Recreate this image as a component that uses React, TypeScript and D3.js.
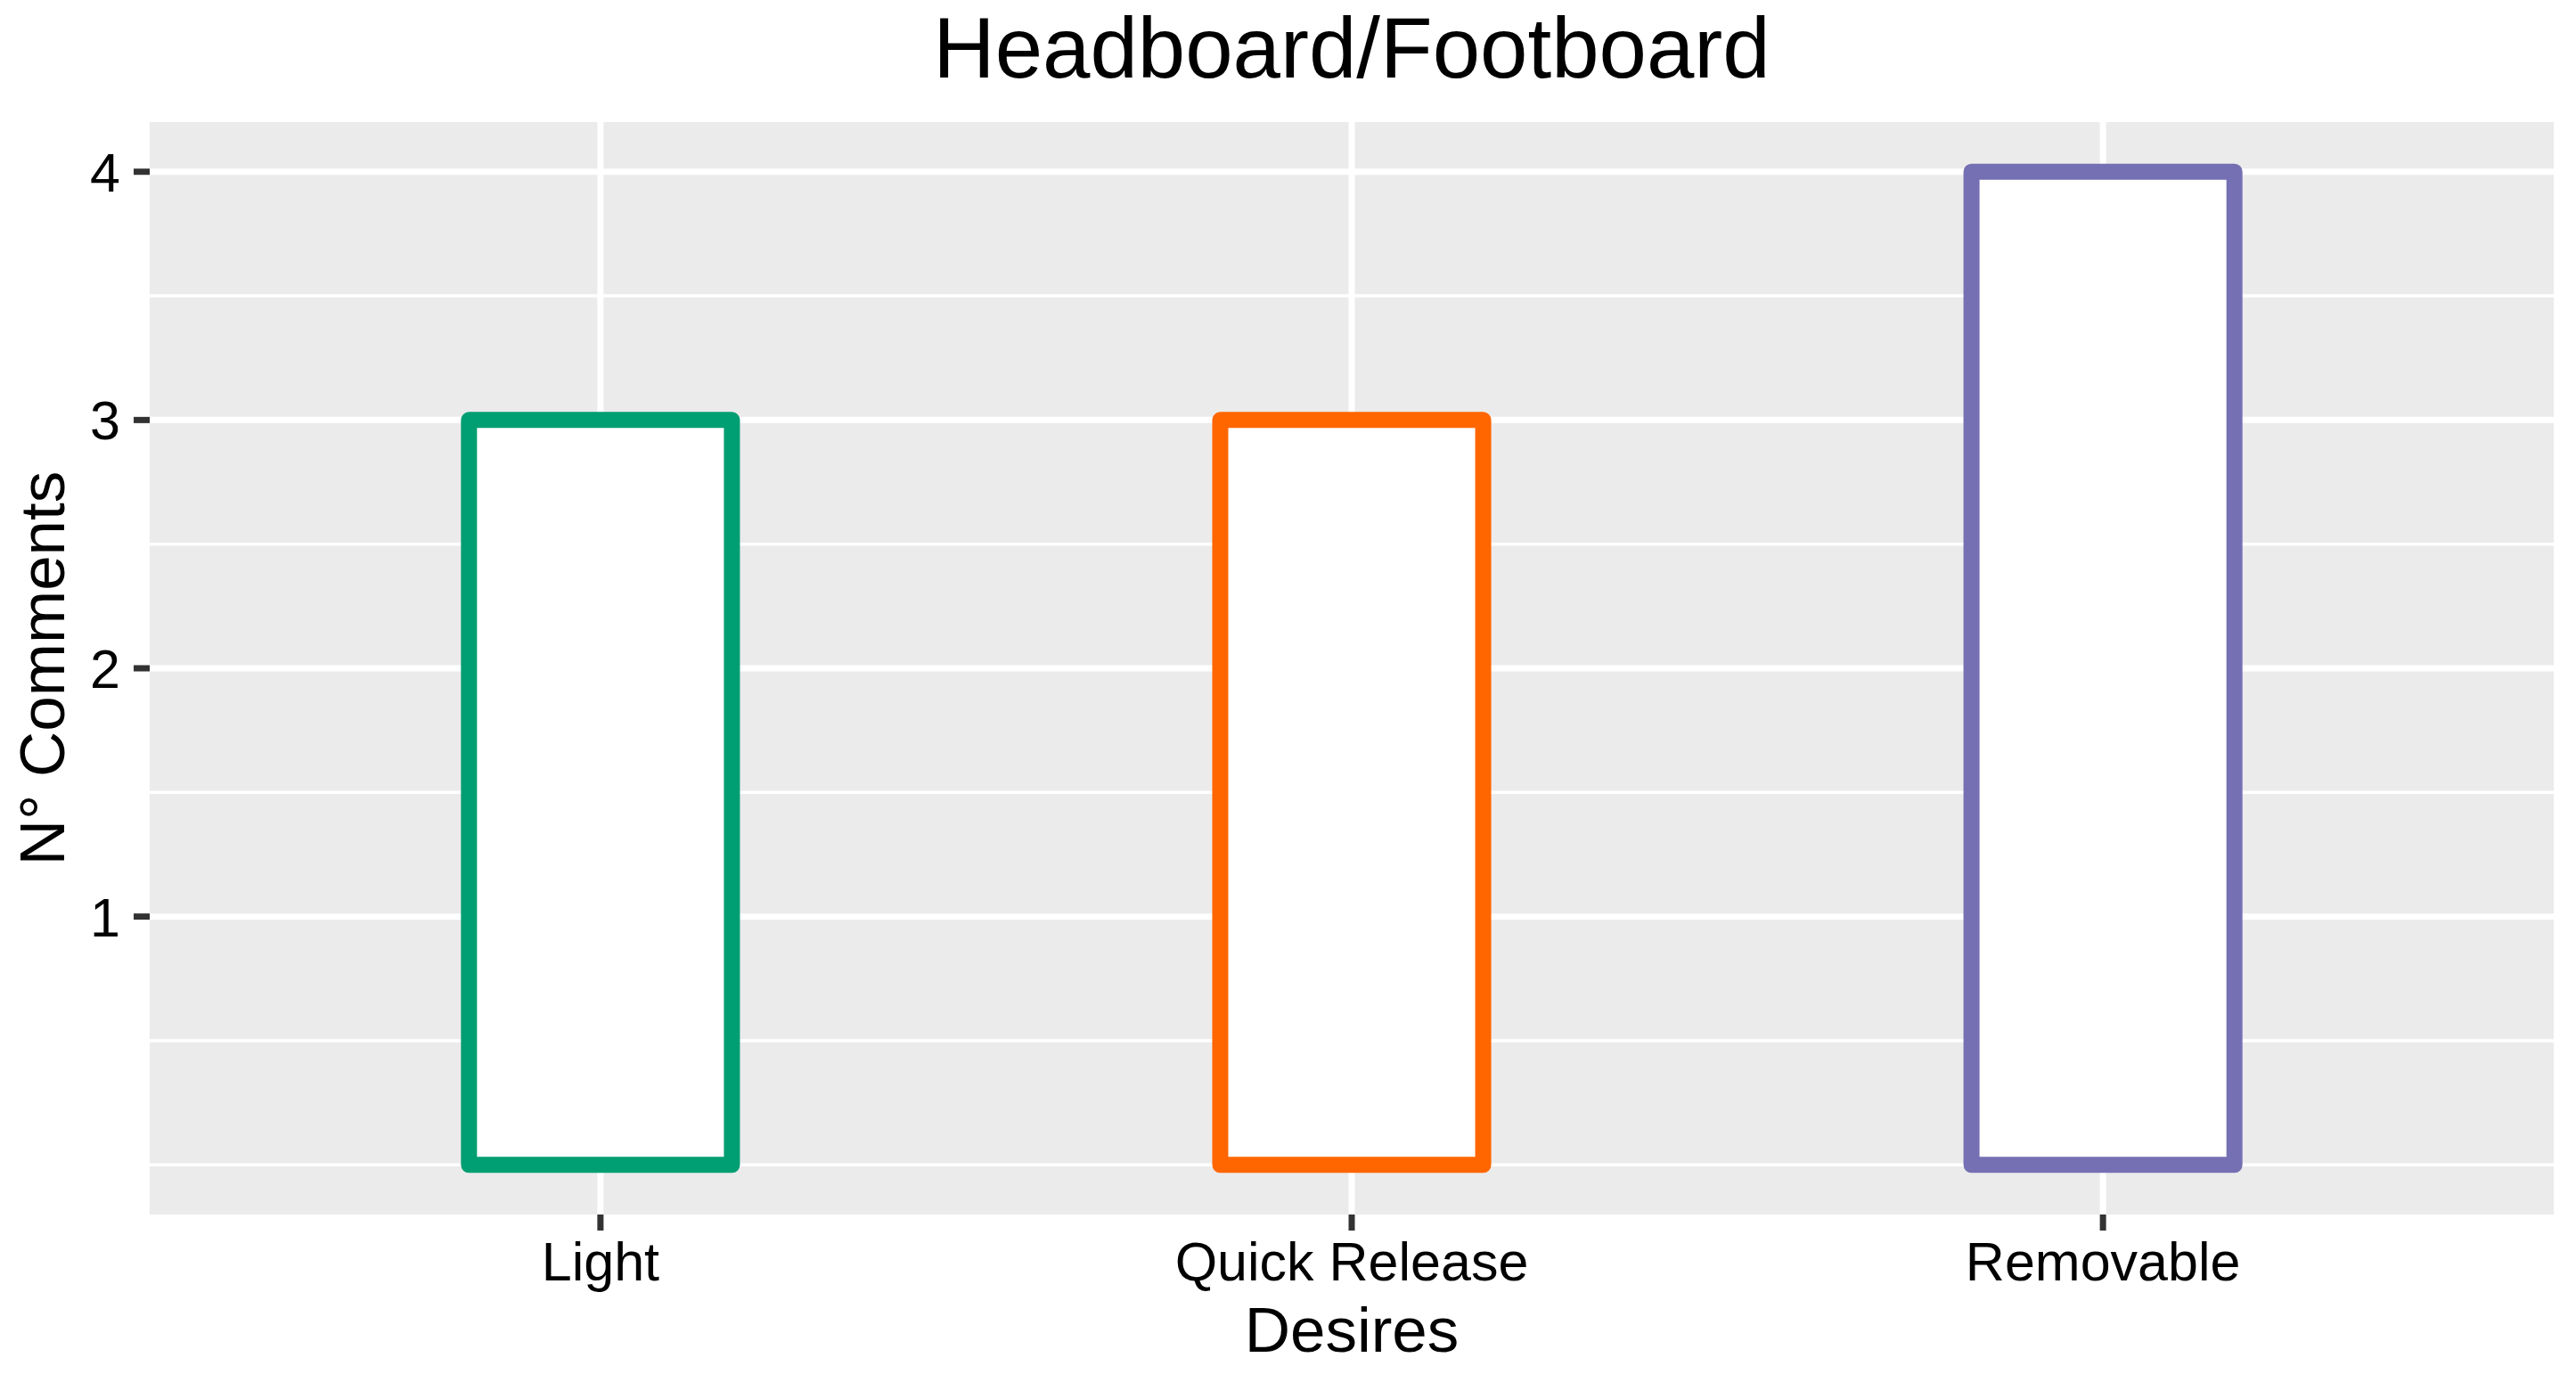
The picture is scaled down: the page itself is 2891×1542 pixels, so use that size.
import React from "react";
import * as d3 from "d3";

const categories = ["Light", "Quick Release", "Removable"];
const values = [3, 3, 4];
const barColors = ["#009E73", "#FF6600", "#7570B3"];
const yMajorTicks = [1, 2, 3, 4];
const yMinorTicks = [0, 0.5, 1.5, 2.5, 3.5];
const titleText = "Headboard/Footboard";
const xTitle = "Desires";
const yTitle = "N° Comments";

const W = 2891;
const H = 1542;
const panel = { left: 168, right: 2866, top: 137, bottom: 1363 };
const FONT = "'Liberation Sans', Arial, Helvetica, sans-serif";

export default function App() {
  const x = d3
    .scalePoint<string>()
    .domain(categories)
    .range([panel.left, panel.right])
    .padding(0.6);
  const y = d3.scaleLinear().domain([-0.2, 4.2]).range([panel.bottom, panel.top]);
  const barW = x.step() * 0.35;
  const cx = (panel.left + panel.right) / 2;
  const cy = (panel.top + panel.bottom) / 2;

  return (
    <div>
      <style>{`body{margin:0;}`}</style>
      <svg width={W} height={H} style={{ display: "block", background: "#fff" }} fontFamily={FONT}>
        <rect
          x={panel.left}
          y={panel.top}
          width={panel.right - panel.left}
          height={panel.bottom - panel.top}
          fill="#EBEBEB"
        />
        {yMinorTicks.map((t) => (
          <line key={"mn" + t} x1={panel.left} x2={panel.right} y1={y(t)} y2={y(t)} stroke="#fff" strokeWidth={3.5} />
        ))}
        {yMajorTicks.map((t) => (
          <line key={"mj" + t} x1={panel.left} x2={panel.right} y1={y(t)} y2={y(t)} stroke="#fff" strokeWidth={7} />
        ))}
        {categories.map((c) => (
          <line key={"vx" + c} x1={x(c)} x2={x(c)} y1={panel.top} y2={panel.bottom} stroke="#fff" strokeWidth={7} />
        ))}
        {categories.map((c, i) => (
          <rect
            key={"bar" + c}
            x={(x(c) as number) - barW / 2}
            y={y(values[i])}
            width={barW}
            height={y(0) - y(values[i])}
            fill="#fff"
            stroke={barColors[i]}
            strokeWidth={18}
            strokeLinejoin="round"
          />
        ))}
        {yMajorTicks.map((t) => (
          <g key={"yt" + t}>
            <line x1={panel.left - 18} x2={panel.left} y1={y(t)} y2={y(t)} stroke="#333" strokeWidth={7} />
            <text x={135} y={y(t)} dy="0.36em" textAnchor="end" fontSize={61} fill="#000">
              {t}
            </text>
          </g>
        ))}
        {categories.map((c) => (
          <g key={"xt" + c}>
            <line x1={x(c)} x2={x(c)} y1={panel.bottom} y2={panel.bottom + 18} stroke="#333" strokeWidth={7} />
            <text x={x(c)} y={1437} textAnchor="middle" fontSize={61} fill="#000">
              {c}
            </text>
          </g>
        ))}
        <text x={cx} y={1517} textAnchor="middle" fontSize={71} fill="#000">
          {xTitle}
        </text>
        <text
          transform={`translate(72, ${cy}) rotate(-90)`}
          textAnchor="middle"
          fontSize={71}
          fill="#000"
        >
          {yTitle}
        </text>
        <text x={cx} y={87} textAnchor="middle" fontSize={96} fill="#000">
          {titleText}
        </text>
      </svg>
    </div>
  );
}
